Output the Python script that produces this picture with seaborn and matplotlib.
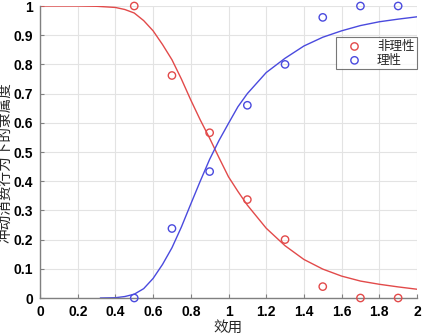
import numpy as np
import pandas as pd
import matplotlib
matplotlib.use("Agg")
import matplotlib.pyplot as plt
import seaborn as sns

# observed points
pt_x = [0.5, 0.7, 0.9, 1.1, 1.3, 1.5, 1.7, 1.9]
irr_pts = [1.0, 0.762, 0.566, 0.337, 0.200, 0.039, 0.0, 0.0]
rat_pts = [0.0, 0.238, 0.433, 0.660, 0.800, 0.961, 1.0, 1.0]

# fitted curves
irr_x = [0, 0.1, 0.2, 0.3, 0.4, 0.45, 0.5, 0.55, 0.6, 0.65, 0.7, 0.75, 0.8, 0.85,
         0.9, 0.95, 1.0, 1.05, 1.1, 1.2, 1.3, 1.4, 1.5, 1.6, 1.7, 1.8, 1.9, 2.0]
irr_y = [1.0, 1.0, 1.0, 0.999, 0.995, 0.988, 0.976, 0.950, 0.915, 0.868, 0.816, 0.750,
         0.678, 0.610, 0.547, 0.480, 0.415, 0.365, 0.318, 0.239, 0.179, 0.132, 0.099,
         0.075, 0.058, 0.047, 0.038, 0.030]
rat_x = [0.32, 0.4, 0.45, 0.5, 0.55, 0.6, 0.65, 0.7, 0.75, 0.8, 0.85, 0.9, 0.95, 1.0,
         1.05, 1.1, 1.2, 1.3, 1.4, 1.5, 1.6, 1.7, 1.8, 1.9, 2.0]
rat_y = [0.0, 0.001, 0.005, 0.013, 0.032, 0.067, 0.115, 0.172, 0.243, 0.322, 0.400,
         0.475, 0.540, 0.598, 0.655, 0.700, 0.772, 0.821, 0.863, 0.893, 0.915, 0.933,
         0.946, 0.955, 0.963]

labels = ["非理性", "理性"]
x_ticks = [0, 0.2, 0.4, 0.6, 0.8, 1.0, 1.2, 1.4, 1.6, 1.8, 2.0]
x_ticklabels = ["0", "0.2", "0.4", "0.6", "0.8", "1", "1.2", "1.4", "1.6", "1.8", "2"]
y_ticks = [0, 0.1, 0.2, 0.3, 0.4, 0.5, 0.6, 0.7, 0.8, 0.9, 1.0]
y_ticklabels = ["0", "0.1", "0.2", "0.3", "0.4", "0.5", "0.6", "0.7", "0.8", "0.9", "1"]

RED = "#e24a4a"
BLUE = "#4a4ade"

sns.set_theme(style="whitegrid")
plt.rcParams['font.family'] = ['Noto Sans CJK SC', 'DejaVu Sans']

fig = plt.figure(figsize=(4.25, 3.35), dpi=100)
ax = fig.add_axes([40 / 425, 1 - 298 / 335, 377 / 425, 292 / 335])

sns.lineplot(x=irr_x, y=irr_y, ax=ax, color=RED, linewidth=1.0, legend=False)
sns.lineplot(x=rat_x, y=rat_y, ax=ax, color=BLUE, linewidth=1.0, legend=False)

pts = pd.DataFrame({
    "x": pt_x + pt_x,
    "y": irr_pts + rat_pts,
    "cls": [labels[0]] * len(pt_x) + [labels[1]] * len(pt_x),
})
for lab, col in zip(labels, [RED, BLUE]):
    d = pts[pts["cls"] == lab]
    ax.scatter(d["x"], d["y"], s=28, facecolors="none", edgecolors=col,
               linewidths=1.0, label=lab, zorder=5, clip_on=False)

ax.set_xlim(0, 2)
ax.set_ylim(0, 1)
ax.set_xticks(x_ticks)
ax.set_xticklabels(x_ticklabels)
ax.set_yticks(y_ticks)
ax.set_yticklabels(y_ticklabels)
for t in ax.get_xticklabels() + ax.get_yticklabels():
    t.set_fontfamily(['Liberation Sans', 'DejaVu Sans'])
    t.set_fontweight('bold')
    t.set_fontsize(10)
    t.set_color('black')

ax.grid(True, color="#e3e3e3", linewidth=0.8)
ax.set_facecolor("white")
for s in ["top", "right"]:
    ax.spines[s].set_visible(False)
for s in ["left", "bottom"]:
    ax.spines[s].set_visible(True)
    ax.spines[s].set_color("#808080")
    ax.spines[s].set_linewidth(1.0)
ax.tick_params(axis="both", direction="in", length=3, width=0.8, color="#808080", pad=5)
ax.tick_params(axis="x", bottom=True)
ax.tick_params(axis="y", left=True)

ax.set_xlabel("效用", fontsize=10.5, labelpad=1)
ax.set_ylabel("冲动消费行为下的隶属度", fontsize=10.5)
ax.yaxis.set_label_coords(-0.072, 0.464)

leg = ax.legend(loc="upper right", bbox_to_anchor=(1.0, 0.893), fontsize=9,
                frameon=True, fancybox=False, edgecolor="#555555",
                borderpad=0.2, handletextpad=0.5, labelspacing=0.07,
                borderaxespad=0.0, handlelength=2.6)
leg.get_frame().set_linewidth(0.8)

fig.savefig("out.png", dpi=100, facecolor="white")
